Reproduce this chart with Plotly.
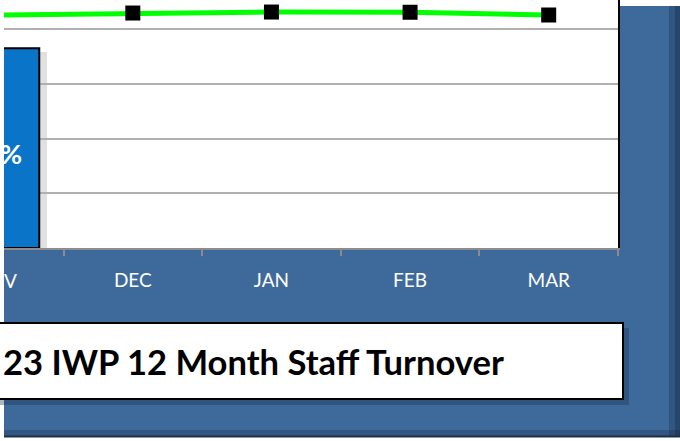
import plotly.graph_objects as go

months = ["NOV", "DEC", "JAN", "FEB", "MAR"]
bar_months = ["NOV"]
bar_values = [18.25]
bar_label_visible = "%"
cut_tick_visible = "V"
line_values = [21.26, 21.46, 21.55, 21.53, 21.28]
title_text = "23 IWP 12 Month Staff Turnover"

W, H = 680, 441
ml, mr, mt, mb = 4, 62, 0, 193
pw = W - ml - mr
ph = H - mt - mb

def px(x):
    return (x - ml) / pw

def py(y):
    return (H - mb - y) / ph

frame = "#3e6a9b"
font_family = "Lato, Open Sans, sans-serif"

fig = go.Figure()
fig.add_trace(go.Bar(
    x=bar_months, y=bar_values, width=0.65,
    marker=dict(color="#0a74c8", line=dict(color="#000000", width=2)),
    hoverinfo="skip", showlegend=False,
))
fig.add_trace(go.Scatter(
    x=months, y=line_values, mode="lines+markers",
    line=dict(color="#00ff00", width=5),
    marker=dict(symbol="square", size=15, color="#000000"),
    cliponaxis=False, showlegend=False,
))

shapes = [
    # outer blue frame
    dict(type="rect", xref="paper", yref="paper", x0=px(4), x1=px(681), y0=py(437), y1=py(6),
         fillcolor=frame, line=dict(width=0), layer="below"),
    # right bevel shade
    dict(type="rect", xref="paper", yref="paper", x0=px(669), x1=px(681), y0=py(437), y1=py(6),
         fillcolor="rgba(20,40,70,0.3)", line=dict(width=0), layer="below"),
    dict(type="rect", xref="paper", yref="paper", x0=px(675), x1=px(681), y0=py(437), y1=py(6),
         fillcolor="rgba(20,40,70,0.35)", line=dict(width=0), layer="below"),
    # bottom bevel shade
    dict(type="rect", xref="paper", yref="paper", x0=px(4), x1=px(681), y0=py(437), y1=py(430),
         fillcolor="rgba(20,40,70,0.3)", line=dict(width=0), layer="below"),
    dict(type="line", xref="paper", yref="paper", x0=px(4), x1=px(681), y0=py(436.5), y1=py(436.5),
         line=dict(color="#1c2f48", width=2), layer="below"),
    # plot area background
    dict(type="rect", xref="paper", yref="paper", x0=0, x1=1, y0=0, y1=1,
         fillcolor="white", line=dict(width=0), layer="below"),
    # title box shadow
    dict(type="rect", xref="paper", yref="paper", x0=px(-20), x1=px(629), y0=py(405), y1=py(328),
         fillcolor="rgba(25,45,75,0.35)", line=dict(width=0), layer="below"),
    # title box
    dict(type="rect", xref="paper", yref="paper", x0=px(-20), x1=px(623), y0=py(399), y1=py(323),
         fillcolor="white", line=dict(color="#000000", width=2), layer="below"),
    # bar shadow
    dict(type="rect", xref="paper", yref="paper", x0=px(40), x1=px(47), y0=0, y1=py(52),
         fillcolor="rgba(0,0,0,0.12)", line=dict(width=0), layer="below"),
]

fig.update_layout(
    width=W, height=H,
    margin=dict(l=ml, r=mr, t=mt, b=mb),
    paper_bgcolor="white",
    plot_bgcolor="rgba(0,0,0,0)",
    shapes=shapes,
    annotations=[
        dict(xref="paper", yref="paper", x=px(1), y=py(361), xanchor="left", yanchor="middle",
             text=title_text, showarrow=False,
             font=dict(family=font_family, size=34.6, color="#000000", weight="bold")),
        dict(xref="paper", yref="paper", x=px(24), y=py(153), xanchor="right", yanchor="middle",
             text=bar_label_visible, showarrow=False,
             font=dict(family=font_family, size=27, color="white", weight="bold")),
        dict(xref="paper", yref="paper", x=px(2), y=py(280), xanchor="left", yanchor="middle",
             text=cut_tick_visible, showarrow=False,
             font=dict(family=font_family, size=19, color="white")),
    ],
    xaxis=dict(
        type="category", range=[0.0707, 4.5],
        tickson="boundaries", ticks="outside", ticklen=6, tickcolor="#8c8c8c", tickwidth=1.5,
        showline=True, linecolor="#8c8c8c", linewidth=1.5,
        showgrid=False,
        tickfont=dict(family=font_family, size=19, color="white"),
        ticklabelstandoff=14,
    ),
    yaxis=dict(
        range=[0, 22.65], tick0=0, dtick=5,
        showgrid=True, gridcolor="#b0b0b0", gridwidth=1.5,
        zeroline=False, showticklabels=False,
        side="right", showline=True, linecolor="#000000", linewidth=2,
    ),
)

fig.write_html("out.html", config={"displayModeBar": False},
               post_script="document.body.style.margin='0px';document.body.style.overflow='hidden';")
